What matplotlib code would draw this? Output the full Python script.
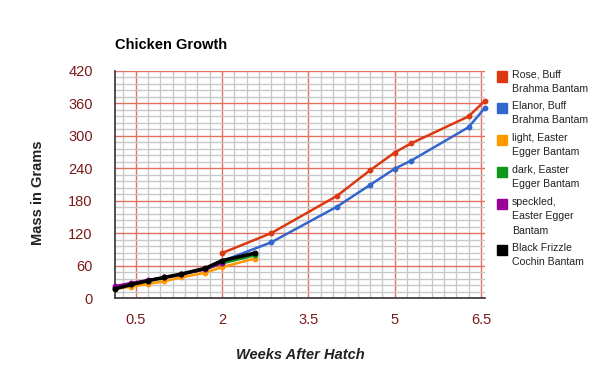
#!/usr/bin/env python3
import numpy as np
from matplotlib import pyplot as plt
from matplotlib.patches import Rectangle

plt.rcParams['font.family'] = ['Liberation Sans', 'DejaVu Sans']

# days after hatch for each bird
days_big = [14, 20, 28, 32, 35, 37, 44, 46]
days_small = [1, 3, 5, 7, 9, 12, 14, 18]
days_speckled = [1, 3, 5, 7, 9, 12, 14]

rose = [83, 120, 189, 236, 269, 286, 336, 365]
elanor = [68, 103, 169, 209, 239, 254, 316, 352]
light = [17, 21, 26, 31, 38, 47, 57, 73]
dark = [18, 25, 32, 38, 44, 53, 64, 79]
speckled = [22, 28, 33, 38, 44, 53, 65]
frizzle = [17, 25, 32, 38, 44, 55, 69, 83]

names = ['Rose, Buff\nBrahma Bantam', 'Elanor, Buff\nBrahma Bantam',
         'light, Easter\nEgger Bantam', 'dark, Easter\nEgger Bantam',
         'speckled,\nEaster Egger\nBantam', 'Black Frizzle\nCochin Bantam']
colors = ['#DC3912', '#3366CC', '#FF9900', '#109618', '#990099', '#000000']

xticks = [0.5, 2, 3.5, 5, 6.5]
yticks = [0, 60, 120, 180, 240, 300, 360, 420]


def main():
    fig = plt.figure(figsize=(6, 3.71), dpi=100)
    ax = fig.add_axes([115/600, 1-298/371, 370/600, 227/371])

    series = [(days_big, rose), (days_big, elanor), (days_small, light),
              (days_small, dark), (days_speckled, speckled), (days_small, frizzle)]
    for i, (d, v) in enumerate(series):
        w = np.array(d) / 7
        lw = 2.6 if i == 5 else 1.8
        ax.plot(w, v, color=colors[i], lw=lw, marker='o', ms=3.2, zorder=3 + i,
                clip_on=False)

    ax.set_xlim(1/7, 46/7)
    ax.set_ylim(0, 420)
    ax.set_xticks(xticks)
    ax.set_xticklabels([('%g' % t) for t in xticks])
    ax.set_yticks(yticks)
    ax.set_xticks(np.arange(0.5 - 1.5/7, 6.6, 1.5/7), minor=True)
    ax.set_yticks(np.arange(0, 421, 12), minor=True)
    ax.grid(True, which='minor', color='#c8c8c8', lw=1, zorder=0)
    ax.grid(True, which='major', color='#e07060', lw=1, zorder=1)
    ax.set_axisbelow(True)
    ax.tick_params(which='both', length=0)
    ax.tick_params(axis='both', labelsize=10.5, labelcolor='#7a1a1a')
    ax.tick_params(axis='x', pad=11)
    ax.tick_params(axis='y', pad=16)
    for s in ['top', 'right']:
        ax.spines[s].set_visible(False)
    for s in ['left', 'bottom']:
        ax.spines[s].set_color('#333333')
        ax.spines[s].set_linewidth(1.2)

    ax.set_xlabel('Weeks After Hatch', fontsize=10.5, fontweight='bold',
                  style='italic', color='#222222')
    ax.xaxis.set_label_coords(0.5, -(348-298)/227)
    ax.set_ylabel('Mass in Grams', fontsize=10.5, fontweight='bold',
                  color='#222222', va='center')
    ax.yaxis.set_label_coords(-(115-38)/370, (298-193)/227)
    fig.text(115/600, 1-45/371, 'Chicken Growth', fontsize=10.5, fontweight='bold',
             color='#000000', va='center', ha='left')

    # legend
    tops = [71.5, 103, 135, 167, 199, 245]
    for i, name in enumerate(names):
        y = tops[i]
        fig.patches.append(Rectangle((497/600, 1-(y+10)/371), 10/600, 10/371,
                                     transform=fig.transFigure, color=colors[i]))
        fig.text(512/600, 1-(y-2)/371, name, fontsize=7.6, color='#222222',
                 va='top', ha='left', linespacing=1.55)

    plt.savefig('out.png', dpi=100)


if __name__ == '__main__':
    main()
